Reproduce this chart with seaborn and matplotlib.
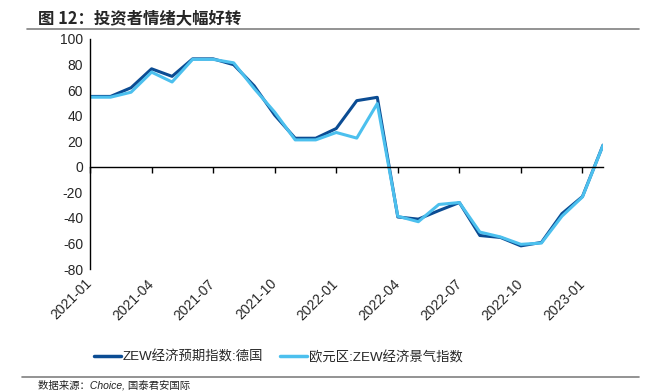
import matplotlib
matplotlib.use("Agg")
import matplotlib.pyplot as plt
import seaborn as sns
import pandas as pd
from matplotlib.lines import Line2D

months = ["2021-01", "2021-02", "2021-03", "2021-04", "2021-05", "2021-06",
          "2021-07", "2021-08", "2021-09", "2021-10", "2021-11", "2021-12",
          "2022-01", "2022-02", "2022-03", "2022-04", "2022-05", "2022-06",
          "2022-07", "2022-08", "2022-09", "2022-10", "2022-11", "2022-12",
          "2023-01", "2023-02"]

germany = [55.0, 55.0, 61.8, 76.6, 70.7, 84.4, 84.4, 79.8, 63.3, 40.4, 22.3, 22.3,
           29.9, 51.7, 54.3, -39.3, -41.0, -34.3, -28.0, -53.8, -55.3, -61.9, -59.2,
           -36.7, -23.3, 16.9]

eurozone = [54.4, 54.4, 58.3, 74.0, 66.3, 84.0, 84.0, 81.3, 61.2, 42.7, 21.0, 21.0,
            26.8, 22.4, 49.4, -38.7, -43.0, -29.5, -28.0, -51.1, -54.9, -60.7, -59.7,
            -38.7, -23.6, 16.7]

name_de = "ZEW经济预期指数:德国"
name_ez = "欧元区:ZEW经济景气指数"
tick_labels = months[::3]

df = pd.DataFrame({"month": months * 2,
                   "value": germany + eurozone,
                   "series": [name_de] * len(months) + [name_ez] * len(months)})

sns.set_style("white")
plt.rcParams["font.family"] = ["Liberation Sans", "Noto Sans CJK SC", "DejaVu Sans"]
plt.rcParams["axes.unicode_minus"] = False

colors = {name_de: "#0B4C93", name_ez: "#4CC0EE"}

fig = plt.figure(figsize=(6.49, 3.91), dpi=100)
ax = fig.add_axes([0.1387, 0.312, 0.9291 - 0.1387, 0.5885])

sns.lineplot(data=df, x="month", y="value", hue="series", palette=colors,
             linewidth=2.2, ax=ax, legend=False, sort=False)

ax.set_xlim(0, len(months) - 1)
ax.set_ylim(-80, 100)
ax.set_yticks(range(-80, 101, 20))
ax.set_xlabel("")
ax.set_ylabel("")

for s in ["top", "right"]:
    ax.spines[s].set_visible(False)
ax.spines["left"].set_linewidth(1.0)
ax.spines["left"].set_color("black")
ax.spines["bottom"].set_position(("data", 0))
ax.spines["bottom"].set_linewidth(1.0)
ax.spines["bottom"].set_color("black")

pos = list(range(0, len(months), 3))
ax.set_xticks(pos)
ax.tick_params(axis="x", direction="out", length=4, width=1, color="black",
               labelbottom=False, bottom=True)
ax.tick_params(axis="y", direction="out", length=3, width=1, color="black",
               labelsize=10, pad=2)

sec = ax.secondary_xaxis("bottom")
sec.set_xticks(pos)
sec.set_xticklabels(tick_labels, rotation=45, ha="right", va="center",
                    rotation_mode="anchor", fontsize=10)
sec.tick_params(length=0, pad=9)
sec.spines["bottom"].set_visible(False)

handles = [Line2D([], [], color=colors[name_de], lw=2.5),
           Line2D([], [], color=colors[name_ez], lw=2.5)]
fig.legend(handles, [name_de, name_ez], loc="center", ncol=2,
           bbox_to_anchor=(0.429, 0.086), frameon=False, fontsize=9.6,
           handlelength=2.0, handletextpad=0.15, columnspacing=1.3)

fig.text(0.058, 0.953, "图 12：投资者情绪大幅好转", fontsize=11.8, fontweight="bold",
         va="center", ha="left", family=["Noto Sans CJK SC", "DejaVu Sans"])
fig.add_artist(Line2D([0.042, 0.985], [0.925, 0.925], color="#808080", lw=1.2))
fig.add_artist(Line2D([0.034, 0.985], [0.036, 0.036], color="#808080", lw=1.2))
fig.text(0.058, 0.016, "数据来源：Choice, 国泰君安国际", fontsize=7.5, style="italic",
         va="center", ha="left", color="#222222")

fig.savefig("out.png", dpi=100)
